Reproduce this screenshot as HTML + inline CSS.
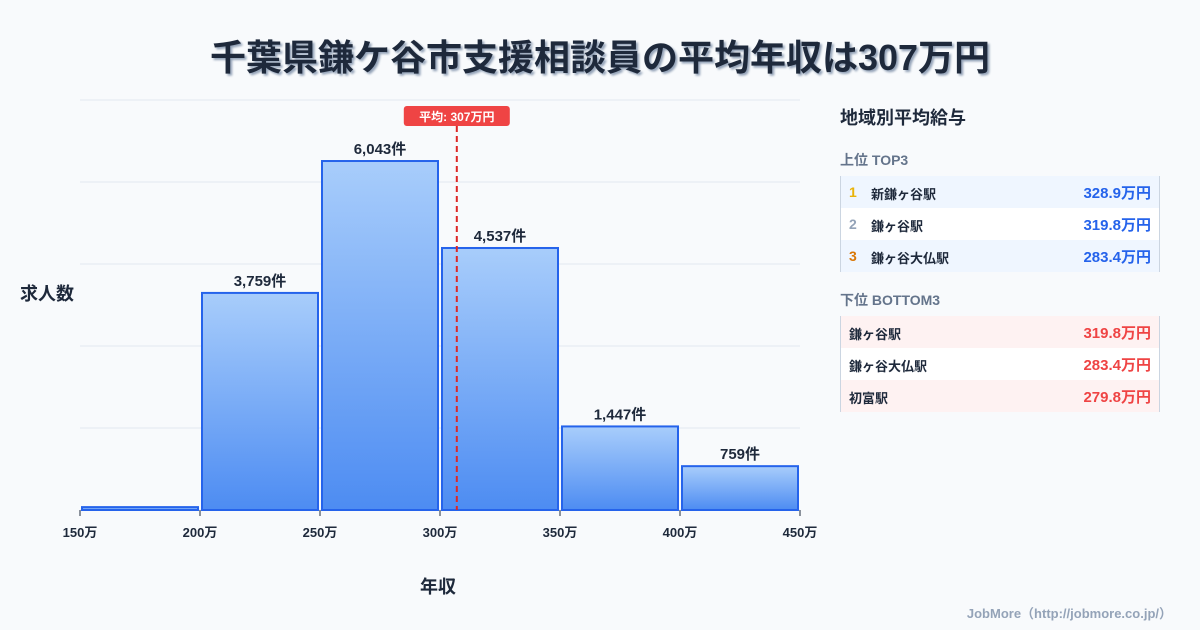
<!DOCTYPE html>
<html><head><meta charset="utf-8"><style>
body{margin:0;width:1200px;height:630px;background:#f8fafc;font-family:"Liberation Sans","Noto Sans CJK JP",sans-serif;overflow:hidden;position:relative;color:#1e293b}
.t{position:absolute;font-weight:bold}
.row{position:absolute;left:840px;width:320px;height:32px;font-size:13px;font-weight:bold;border-left:1px solid #cbd5e1;border-right:1px solid #cbd5e1;box-sizing:border-box}
.row span{position:absolute;top:8px}
.row .v{right:8px;font-size:15px;top:6px}
</style></head><body>
<div class="t" style="left:0;width:1200px;text-align:center;top:29px;font-size:36px;color:#1e293b;text-shadow:2px 2px 2px #94a3b8">千葉県鎌ケ谷市支援相談員の平均年収は307万円</div>
<div class="t" style="left:20px;top:280px;font-size:18px">求人数</div>
<div class="t" style="left:420px;top:573px;font-size:18px">年収</div>
<svg id="chart" width="1200" height="630" style="position:absolute;left:0;top:0">
<defs><linearGradient id="g" x1="0" y1="0" x2="0" y2="1"><stop offset="0" stop-color="#a8cdfb"/><stop offset="1" stop-color="#4d8cf2"/></linearGradient></defs>
</svg>
<div class="t" style="left:840px;top:104px;font-size:18px">地域別平均給与</div>
<div class="t" style="left:840px;top:150px;font-size:14px;color:#64748b">上位 TOP3</div>
<div class="row" style="top:176px;background:#eff6ff"><span style="left:8px;color:#eab308;font-size:14px">1</span><span style="left:30px">新鎌ヶ谷駅</span><span class="v" style="color:#2563eb">328.9万円</span></div>
<div class="row" style="top:208px;background:#fff"><span style="left:8px;color:#94a3b8;font-size:14px">2</span><span style="left:30px">鎌ヶ谷駅</span><span class="v" style="color:#2563eb">319.8万円</span></div>
<div class="row" style="top:240px;background:#eff6ff"><span style="left:8px;color:#d97706;font-size:14px">3</span><span style="left:30px">鎌ヶ谷大仏駅</span><span class="v" style="color:#2563eb">283.4万円</span></div>
<div class="t" style="left:840px;top:290px;font-size:14px;color:#64748b">下位 BOTTOM3</div>
<div class="row" style="top:316px;background:#fef2f2"><span style="left:8px">鎌ヶ谷駅</span><span class="v" style="color:#ef4444">319.8万円</span></div>
<div class="row" style="top:348px;background:#fff"><span style="left:8px">鎌ヶ谷大仏駅</span><span class="v" style="color:#ef4444">283.4万円</span></div>
<div class="row" style="top:380px;background:#fef2f2"><span style="left:8px">初富駅</span><span class="v" style="color:#ef4444">279.8万円</span></div>
<div class="t" style="right:28px;top:603px;font-size:13px;color:#94a3b8">JobMore（http://jobmore.co.jp/）</div>
<script>
const binStarts=[150,200,250,300,350,400];
const counts=[50,3759,6043,4537,1447,759];
const labels=["","3,759件","6,043件","4,537件","1,447件","759件"];
const ticks=[150,200,250,300,350,400,450];
const meanVal=307;
const NS="http://www.w3.org/2000/svg";
const svg=document.getElementById('chart');
const x=v=>80+(v-150)*2.4, y=v=>510-v*0.05775;
function mk(t,a){const e=document.createElementNS(NS,t);for(const k in a)e.setAttribute(k,a[k]);svg.appendChild(e);return e;}
for(let i=0;i<6;i++){const g=mk('line',{x1:80,x2:800,y1:100+i*82,y2:100+i*82,stroke:'#e2e8f0'});

}
binStarts.forEach((b,i)=>{
const x0=x(b)+2,x1=x(b+50)-2,yt=y(counts[i]);
const r=mk('rect',{x:x0,y:yt,width:x1-x0,height:510-yt,fill:'url(#g)',stroke:'#2563eb','stroke-width':2});


if(labels[i]){const t=mk('text',{x:(x0+x1)/2,y:yt-7,'text-anchor':'middle','font-size':15,'font-weight':'bold',fill:'#1e293b'});t.textContent=labels[i];

}
});
ticks.forEach(v=>{mk('line',{x1:x(v),x2:x(v),y1:510,y2:516,stroke:'#1e293b'});
const t=mk('text',{x:x(v),y:537,'text-anchor':'middle','font-size':13,'font-weight':'bold',fill:'#1e293b'});t.textContent=v+'万';

});
const mx=x(meanVal);
const ml=mk('line',{x1:mx,x2:mx,y1:126,y2:510,stroke:'#dc2626','stroke-width':2,'stroke-dasharray':'6,4'});


const mb=mk('rect',{x:mx-53,y:106,width:106,height:20,rx:3,fill:'#ef4444'});


const mt=mk('text',{x:mx,y:121,'text-anchor':'middle','font-size':12,'font-weight':'bold',fill:'#fff'});mt.textContent='平均: '+meanVal+'万円';


</script>
</body></html>
